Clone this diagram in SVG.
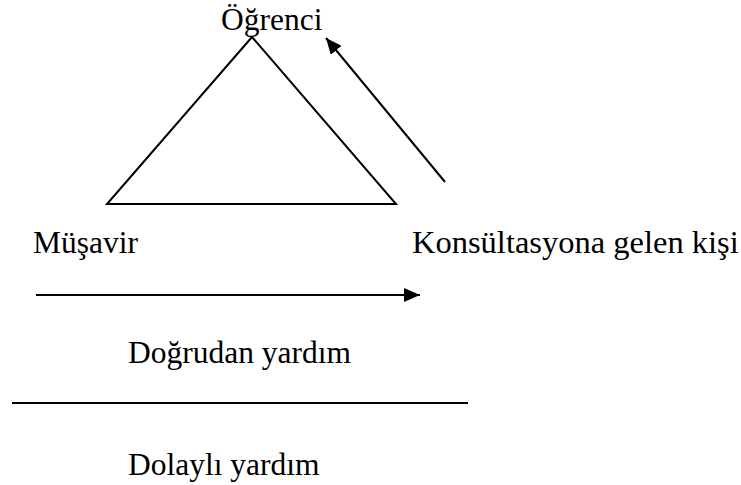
<svg xmlns="http://www.w3.org/2000/svg" width="741" height="485" viewBox="0 0 741 485">
<style>
text{font-family:"Liberation Serif","Times New Roman",serif;font-size:31.5px;fill:#000}
.ln{stroke:#000;stroke-width:2;fill:none}
</style>
<defs>
<marker id="ah" markerUnits="userSpaceOnUse" markerWidth="16" markerHeight="14" refX="16" refY="7" orient="auto">
<path d="M0,0 L16,7 L0,14 z" fill="#000"/>
</marker>
</defs>
<rect width="741" height="485" fill="#fff"/>
<g id="triangle">
<polygon class="ln" points="252,37 107,204 396,204"/>
</g>
<g id="n-ogrenci"><text x="221" y="30">Öğrenci</text></g>
<g id="n-musavir"><text x="33" y="253">Müşavir</text></g>
<g id="n-kisi"><text x="412" y="253" style="font-size:32.5px">Konsültasyona gelen kişi</text></g>
<g id="n-dogrudan"><text x="128" y="363">Doğrudan yardım</text></g>
<g id="n-dolayli"><text x="128" y="475">Dolaylı yardım</text></g>
<g id="connectors">
<line class="ln" x1="445" y1="182" x2="326" y2="38" marker-end="url(#ah)"/>
<line class="ln" x1="36" y1="295" x2="420" y2="295" marker-end="url(#ah)"/>
<line class="ln" x1="12" y1="403" x2="468" y2="403"/>
</g>
</svg>
